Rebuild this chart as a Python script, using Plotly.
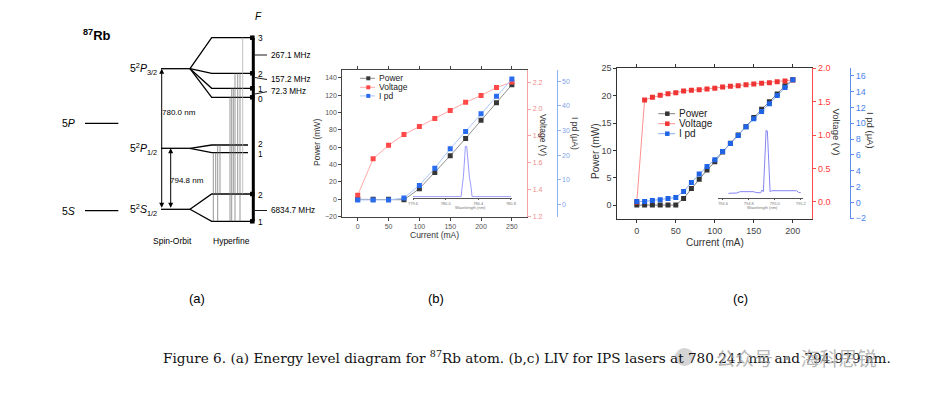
import plotly.graph_objects as go

# ---------------- data ----------------
# (b) LIV of the 780.241 nm laser
current_b = [0, 25, 50, 75, 100, 125, 150, 175, 200, 225, 250]
power_b = [0.0, 0.0, 0.0, -0.5, 12.3, 31.0, 50.3, 70.2, 91.0, 111.3, 132.0]
voltage_b = [1.36, 1.63, 1.73, 1.81, 1.87, 1.93, 1.99, 2.05, 2.10, 2.16, 2.20]
ipd_b = [1.8, 1.8, 1.8, 2.6, 7.7, 14.7, 22.6, 29.6, 36.8, 43.9, 50.8]
# (b) inset spectrum
wl_b = [779.60, 780.19, 780.202, 780.218, 780.234, 780.242, 780.258, 780.270, 780.291, 780.312, 780.324, 780.80]
spec_b = [0.015, 0.015, 0.18, 0.36, 0.71, 0.89, 0.89, 0.65, 0.36, 0.18, 0.015, 0.015]
wl_ticks_b = [779.6, 780.0, 780.4, 780.8]

# (c) LIV of the 794.979 nm laser
current_c = [0, 10, 20, 30, 40, 50, 60, 70, 80, 90, 100, 110, 120, 130, 140, 150, 160, 170, 180, 190, 200]
power_c = [0, 0, 0, 0, 0, 0, 1.22, 3.05, 4.7, 6.4, 7.93, 9.7, 11.3, 12.8, 14.3, 16.0, 17.5, 18.9, 20.3, 21.8, 22.9]
voltage_c = [0.0, 1.525, 1.565, 1.595, 1.62, 1.635, 1.66, 1.67, 1.68, 1.69, 1.70, 1.72, 1.73, 1.74, 1.755,
             1.765, 1.775, 1.785, 1.80, 1.81, 1.825]
ipd_c = [0.13, 0.13, 0.25, 0.34, 0.5, 0.63, 1.39, 2.5, 3.58, 4.55, 5.39, 6.44, 7.45, 8.46, 9.55, 10.56, 11.49,
         12.46, 13.51, 14.52, 15.49]
# (c) inset spectrum
wl_c = [794.643, 794.708, 794.733, 794.835, 794.862, 794.892, 794.902, 794.912, 794.925, 794.933, 794.943,
        794.954, 794.964, 794.977, 795.169, 795.182, 795.20]
spec_c = [0.06, 0.065, 0.083, 0.083, 0.069, 0.069, 0.106, 0.083, 0.587, 0.93, 0.917, 0.45, 0.083, 0.096,
          0.096, 0.075, 0.069]
wl_ticks_c = [794.6, 794.8, 795.0, 795.2]

# (a) 87Rb level diagram (diagram units, y grows downward)
fine_names = ['5<i>S</i>', '5<i>P</i>']
fine_y = [210.7, 123.3]
so_names = ['5<sup>2</sup><i>S</i><sub>1/2</sub>', '5<sup>2</sup><i>P</i><sub>1/2</sub>',
            '5<sup>2</sup><i>P</i><sub>3/2</sub>']
so_y = [209.3, 148.3, 68.7]
hf_F = [[2, 1], [2, 1], [3, 2, 1, 0]]
hf_y = [[194.0, 221.3], [145.0, 152.7], [37.7, 73.3, 88.3, 97.3]]
split_labels = ['267.1 MHz', '157.2 MHz', '72.3 MHz', '6834.7 MHz']
split_y = [55.0, 79.5, 91.7, 210.5]
split_from_y = [55.0, 77.5, 94.0, 210.5]
wavelength_labels = ['780.0 nm', '794.8 nm']
# transitions: (x, upper level y, lower level y)
trans_x = [213.3, 215.7, 217.7, 220.0, 230.0, 231.7, 233.3, 235.0, 237.7, 240.0, 242.7]
trans_top = [152.7, 152.7, 145.0, 145.0, 97.3, 88.3, 88.3, 73.3, 73.3, 73.3, 37.7]
trans_bot = [221.3, 194.0, 221.3, 194.0, 221.3, 221.3, 194.0, 221.3, 194.0, 221.3, 194.0]

# ---------------- helpers ----------------
W, H = 930, 397
def px(p):
    return p / W
def py(p):
    return 1 - p / H

SANS = 'Arial, Liberation Sans, sans-serif'
NARROW = 'Liberation Sans Narrow, Arial Narrow, Arial, Liberation Sans, sans-serif'

fig = go.Figure()

# ---- (b) ----
B_PW_L, B_PW_M = '#909090', '#383838'
B_V_L, B_V_M = '#ffa8a8', '#ff4848'
B_I_L, B_I_M = '#a9c6ff', '#2a6cf0'
fig.add_trace(go.Scatter(x=wl_b, y=spec_b, xaxis='x3', yaxis='y7', mode='lines',
                         line=dict(color='#9a9aff', width=1), hoverinfo='skip'))
fig.add_trace(go.Scatter(x=current_b, y=power_b, xaxis='x', yaxis='y', mode='lines+markers', name='Power',
                         line=dict(color=B_PW_L, width=1), marker=dict(symbol='square', size=5, color=B_PW_M)))
fig.add_trace(go.Scatter(x=current_b, y=voltage_b, xaxis='x', yaxis='y2', mode='lines+markers', name='Voltage',
                         line=dict(color=B_V_L, width=1), marker=dict(symbol='square', size=5, color=B_V_M)))
fig.add_trace(go.Scatter(x=current_b, y=ipd_b, xaxis='x', yaxis='y3', mode='lines+markers', name='I pd',
                         line=dict(color=B_I_L, width=1), marker=dict(symbol='square', size=5, color=B_I_M)))

# ---- (c) ----
C_PW_L, C_PW_M = '#808080', '#333333'
C_V_L, C_V_M = '#ff9090', '#f03434'
C_I_L, C_I_M = '#86acf5', '#1f64e6'
fig.add_trace(go.Scatter(x=wl_c, y=spec_c, xaxis='x4', yaxis='y8', mode='lines',
                         line=dict(color='#8585f2', width=1), hoverinfo='skip'))
fig.add_trace(go.Scatter(x=current_c, y=power_c, xaxis='x2', yaxis='y4', mode='lines+markers', name='Power',
                         line=dict(color=C_PW_L, width=1), marker=dict(symbol='square', size=5, color=C_PW_M)))
fig.add_trace(go.Scatter(x=current_c, y=voltage_c, xaxis='x2', yaxis='y5', mode='lines+markers', name='Voltage',
                         line=dict(color=C_V_L, width=1), marker=dict(symbol='square', size=5, color=C_V_M)))
fig.add_trace(go.Scatter(x=current_c, y=ipd_c, xaxis='x2', yaxis='y6', mode='lines+markers', name='I pd',
                         line=dict(color=C_I_L, width=1), marker=dict(symbol='square', size=5, color=C_I_M)))

# ---- (a) diagram on a canvas axis ----
FS_X = (85, 118.3)
SO_X = (161, 190)
FAN_X = 211.7
F_AXIS_X = 253.3
HF_END = [253.3, 248.0, 253.3]

lx, ly = [], []
for y in fine_y:
    lx += [FS_X[0], FS_X[1], None]
    ly += [y, y, None]
for i, y in enumerate(so_y):
    lx += [SO_X[0], SO_X[1], None]
    ly += [y, y, None]
    for yh in hf_y[i]:
        lx += [SO_X[1], FAN_X, HF_END[i], None]
        ly += [y, yh, yh, None]
fig.add_trace(go.Scatter(x=lx, y=ly, xaxis='x5', yaxis='y9', mode='lines',
                         line=dict(color='black', width=1.3), hoverinfo='skip'))

tx, ty, tx2, ty2 = [], [], [], []
for x, a, b in zip(trans_x, trans_top, trans_bot):
    if a < 50:
        tx2 += [x, x, None]; ty2 += [a, b, None]
    else:
        tx += [x, x, None]; ty += [a, b, None]
fig.add_trace(go.Scatter(x=tx, y=ty, xaxis='x5', yaxis='y9', mode='lines',
                         line=dict(color='#6a6a6a', width=0.7), hoverinfo='skip'))
fig.add_trace(go.Scatter(x=tx2, y=ty2, xaxis='x5', yaxis='y9', mode='lines',
                         line=dict(color='#b0b0b0', width=0.8), hoverinfo='skip'))

f_all = hf_y[0] + hf_y[2]
fig.add_trace(go.Scatter(x=[F_AXIS_X, F_AXIS_X], y=[min(f_all), max(f_all)], xaxis='x5', yaxis='y9',
                         mode='lines', line=dict(color='black', width=3), hoverinfo='skip'))
fig.add_trace(go.Scatter(x=[F_AXIS_X - 1] * len(f_all), y=f_all, xaxis='x5', yaxis='y9', mode='markers',
                         marker=dict(symbol='square', size=4.5, color='black'), hoverinfo='skip'))

# leaders for splittings
sx, sy = [], []
for yf, yl in zip(split_from_y, split_y):
    sx += [F_AXIS_X + 1.5, 267.0, None]
    sy += [yf, yl, None]
fig.add_trace(go.Scatter(x=sx, y=sy, xaxis='x5', yaxis='y9', mode='lines',
                         line=dict(color='black', width=0.9), hoverinfo='skip'))

# ---------------- layout ----------------
def lin_axis(color, tcolor, size):
    return dict(showline=True, linecolor=color, linewidth=1, ticks='outside', ticklen=3, tickcolor=color,
                tickwidth=1, showgrid=False, zeroline=False, automargin=False,
                tickfont=dict(family=SANS, size=size, color=tcolor))

layout = dict(
    width=W, height=H, margin=dict(l=0, r=0, t=0, b=0, pad=0),
    paper_bgcolor='white', plot_bgcolor='rgba(0,0,0,0)', showlegend=False,
    font=dict(family=SANS),
    # (b)
    xaxis=dict(domain=[px(342.3), px(527.3)], range=[-25, 275], anchor='y', tickvals=[0, 50, 100, 150, 200, 250],
               mirror='ticks', **lin_axis('#444444', '#555555', 7)),
    yaxis=dict(domain=[py(216.7), py(70)], range=[-20, 149], anchor='x', tickvals=list(range(-20, 141, 20)),
               **lin_axis('#444444', '#555555', 7)),
    yaxis2=dict(overlaying='y', side='right', anchor='x', range=[1.2, 2.29],
                tickvals=[1.2, 1.4, 1.6, 1.8, 2.0, 2.2], tickformat='.1f', **lin_axis('#f5a3a3', '#f08a8a', 7)),
    yaxis3=dict(overlaying='y', side='right', anchor='free', position=px(556.7), range=[-5, 54.5],
                tickvals=[0, 10, 20, 30, 40, 50], **lin_axis('#8fb3f3', '#7fa3ea', 7)),
    # (c)
    xaxis2=dict(domain=[px(617.3), px(812.3)], range=[-25, 225], anchor='y4', tickvals=[0, 50, 100, 150, 200],
                mirror='ticks', **lin_axis('#333333', '#444444', 9)),
    yaxis4=dict(domain=[py(219.3), py(68.3)], range=[-2.6, 25], anchor='x2', tickvals=[0, 5, 10, 15, 20, 25],
                **lin_axis('#333333', '#444444', 9)),
    yaxis5=dict(overlaying='y4', side='right', anchor='x2', range=[-0.26, 2.0],
                tickvals=[0, 0.5, 1.0, 1.5, 2.0], tickformat='.1f', **lin_axis('#ff4a4a', '#ff3a3a', 9)),
    yaxis6=dict(overlaying='y4', side='right', anchor='free', position=px(850), range=[-2.13, 16.93],
                tickvals=list(range(-2, 17, 2)), **lin_axis('#5b8ff0', '#4a84ea', 9)),
    # insets
    xaxis3=dict(domain=[px(412.7), px(511.7)], range=[779.596, 780.81], anchor='y7', tickvals=wl_ticks_b,
                ticktext=[f'{v:.1f}' for v in wl_ticks_b], showline=True, linecolor='#555', linewidth=0.8,
                ticks='outside', ticklen=1.5, tickcolor='#555', showgrid=False, zeroline=False,
                tickfont=dict(size=4, color='#777'), automargin=False),
    yaxis7=dict(domain=[py(197.5), py(140)], range=[0, 1], anchor='x3', visible=False),
    xaxis4=dict(domain=[px(717.7), px(803.3)], range=[794.56, 795.22], anchor='y8', tickvals=wl_ticks_c,
                ticktext=[f'{v:.1f}' for v in wl_ticks_c], showline=True, linecolor='#555', linewidth=0.8,
                ticks='outside', ticklen=1.5, tickcolor='#555', showgrid=False, zeroline=False,
                tickfont=dict(size=4, color='#777'), automargin=False),
    yaxis8=dict(domain=[py(197.7), py(125)], range=[0, 1], anchor='x4', visible=False),
    # canvas for the diagram and free text
    xaxis5=dict(domain=[0, 1], range=[0, W], anchor='y9', visible=False, fixedrange=True),
    yaxis9=dict(domain=[0, 1], range=[H, 0], anchor='x5', visible=False, fixedrange=True),
)
fig.update_layout(**layout)

ann = []
def T(x, y, text, size, color='black', family=SANS, xanchor='center', angle=0, opacity=1):
    ann.append(dict(x=x, y=y, xref='x5', yref='y9', text=text, showarrow=False, xanchor=xanchor,
                    yanchor='middle', textangle=angle, opacity=opacity, borderpad=0,
                    font=dict(family=family, size=size, color=color)))

# axis titles (b)
T(317, 143, 'Power (mW)', 8.5, '#333', angle=-90)
T(543, 135, 'Voltage (V)', 8.5, '#333', angle=90)
T(575, 133, 'I pd (μA)', 8.5, '#333', angle=90)
T(434, 234.5, 'Current (mA)', 8.5, '#333')
T(470, 207.5, 'Wavelength (nm)', 4, '#777')
# axis titles (c)
T(595, 151, 'Power (mW)', 10, '#333', angle=-90)
T(836.5, 132, 'Voltage (V)', 9.5, '#333', angle=90)
T(871, 130, 'I pd (μA)', 9.5, '#333', angle=90)
T(715, 242, 'Current (mA)', 10, '#333')
T(762.7, 207, 'Wavelength (nm)', 4, '#777')

# manual legends
shapes = []
def legend(x0, x1, xm, xt, ys, size, msz, items):
    for y, (name, lc, mc) in zip(ys, items):
        shapes.append(dict(type='line', xref='x5', yref='y9', x0=x0, x1=x1, y0=y, y1=y,
                           line=dict(color=lc, width=1)))
        shapes.append(dict(type='rect', xref='x5', yref='y9', x0=xm - msz / 2, x1=xm + msz / 2,
                           y0=y - msz / 2, y1=y + msz / 2, line=dict(width=0), fillcolor=mc))
        T(xt, y, name, size, '#222', xanchor='left')

legend(360, 375, 368.3, 377.5, [78.3, 87.3, 95.9], 8.5, 4,
       [('Power', B_PW_L, B_PW_M), ('Voltage', B_V_L, B_V_M), ('I pd', B_I_L, B_I_M)])
legend(658.3, 675, 667.3, 678.3, [113.7, 123.7, 133.7], 10, 4.5,
       [('Power', C_PW_L, C_PW_M), ('Voltage', C_V_L, C_V_M), ('I pd', C_I_L, C_I_M)])

# diagram text
T(82, 35, '<b><sup>87</sup>Rb</b>', 13, xanchor='left')
T(258.5, 16, '<i>F</i>', 10)
for name, y in zip(fine_names, fine_y):
    T(76, y, name, 10.5, family=NARROW, xanchor='right')
for name, y in zip(so_names, so_y):
    T(157.5, y + 0.5, name, 10.5, family=NARROW, xanchor='right')
for i, (Fs, ys) in enumerate(zip(hf_F, hf_y)):
    for j, (F, y) in enumerate(zip(Fs, ys)):
        nudge = 0.0
        if i == 1:
            nudge = -1.5 if j == 0 else 1.0
        if i == 2 and j == 3:
            nudge = 1.5
        T(256.5, y + 0.6 + nudge, str(F), 8.3, family=NARROW, xanchor='left')
for lab, y in zip(split_labels, split_y):
    T(269.5, y, lab, 8.2, family=NARROW, xanchor='left')
T(179, 112.7, wavelength_labels[0], 8, family=NARROW)
T(187, 180, wavelength_labels[1], 8, family=NARROW)
T(172, 241, 'Spin-Orbit', 8.5, family=NARROW)
T(231, 241, 'Hyperfine', 8.5, family=NARROW)

# wavelength arrows
for x, ytop in [(161.7, so_y[2]), (170.7, so_y[1])]:
    ann.append(dict(x=x, y=ytop, ax=x, ay=so_y[0], xref='x5', yref='y9', axref='x5', ayref='y9',
                    text='', showarrow=True, arrowhead=2, startarrowhead=2, arrowside='end+start',
                    arrowsize=1, arrowwidth=1, arrowcolor='black', standoff=0, startstandoff=0))

# panel letters & caption
T(197, 298, '(a)', 13)
T(436, 298, '(b)', 13)
T(740.5, 298, '(c)', 13)
T(162, 357, 'Figure 6. (a) Energy level diagram for <sup>87</sup>Rb atom. (b,c) LIV for IPS lasers at '
           '780.241 nm and 794.979 nm.', 13.6, '#111', family='DejaVu Serif, Liberation Serif, serif',
  xanchor='left')
# watermark
T(796, 357, '公众号 · 海科思锐', 19, '#a6a6a6', family='Noto Sans CJK SC, sans-serif', opacity=0.8)
shapes.append(dict(type='circle', xref='x5', yref='y9', x0=675, x1=694, y0=348, y1=366,
                   line=dict(width=0), fillcolor='rgba(170,170,170,0.5)', layer='above'))

fig.update_layout(annotations=ann, shapes=shapes)
fig.write_html('out.html', config={'displayModeBar': False},
               post_script="document.body.style.margin='0px';")
